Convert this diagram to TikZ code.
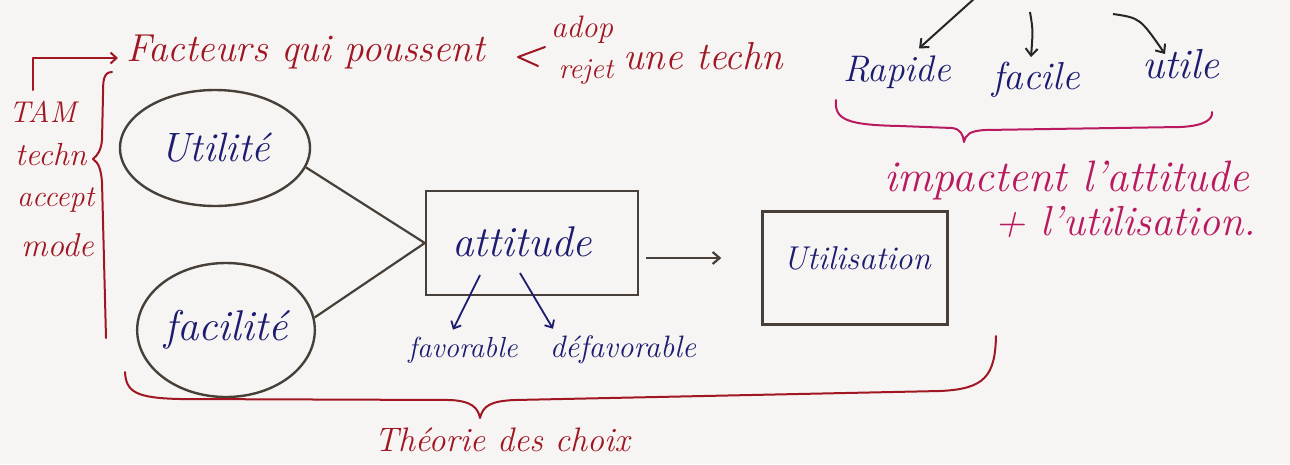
\documentclass[tikz,border=0pt]{standalone}
\usepackage{fontspec}
\usetikzlibrary{shapes.geometric,arrows.meta}
\definecolor{inkred}{RGB}{160,22,35}
\definecolor{inkblue}{RGB}{28,28,112}
\definecolor{inkmag}{RGB}{185,25,95}
\definecolor{inkgray}{RGB}{72,64,56}
\definecolor{paper}{RGB}{246,245,243}
\begin{document}
\begin{tikzpicture}[x=1pt,y=-1pt,
  fs/.style={font=\fontsize{#1}{#1}\selectfont\itshape, inner sep=1pt},
  redtext/.style={text=inkred},
  bluetext/.style={text=inkblue},
  magtext/.style={text=inkmag},
  blob/.style={ellipse, draw=inkgray, line width=2.4pt, bluetext, inner sep=0pt},
  boxnode/.style={rectangle, draw=inkgray, line width=2.4pt},
  link/.style={draw=inkgray, line width=2.2pt},
  grayarrow/.style={draw=inkgray, line width=2.2pt, -{Straight Barb[length=7pt,width=12pt]}},
  bluearrow/.style={draw=inkblue, line width=1.8pt, -{Straight Barb[length=6pt,width=11pt]}},
  darkarrow/.style={draw=black!85, line width=2pt, -{Straight Barb[length=7pt,width=12pt]}},
  redline/.style={draw=inkred, line width=2pt, line cap=round, line join=round},
  magline/.style={draw=inkmag, line width=2pt, line cap=round, line join=round}
]
\fill[paper] (0,0) rectangle (1290,464);
\useasboundingbox (0,0) rectangle (1290,464);

% main nodes
\node[blob, fs=41, minimum width=190pt, minimum height=116pt] (util) at (215,148) {Utilité};
\node[blob, fs=43, minimum width=170pt, minimum height=134pt] (fac) at (226,330) {facilité};
\node[boxnode, minimum width=212pt, minimum height=104pt] (att) at (532,243) {};
\node[bluetext, fs=43] (attl) at (522,242) {attitude};
\node[boxnode, minimum width=185pt, minimum height=113pt] (use) at (855,268) {};
\node[bluetext, fs=33] (usel) at (857,258) {Utilisation};
\node[bluetext, fs=29] (fav) at (463,350) {favorable};
\node[bluetext, fs=31] (defav) at (623,350) {défavorable};

\draw[link] (util.-12) -- (att.west);
\draw[link] (fac.8) -- (att.west);
\draw[grayarrow] ([yshift=-15pt]att.east) ++(7,0) -- ([xshift=-40pt,yshift=10pt]use.west);
\draw[bluearrow] ([xshift=-52pt,yshift=-32pt]att.center) -- ([xshift=-10pt,yshift=6pt]fav.north);
\draw[bluearrow] ([xshift=-12pt,yshift=-30pt]att.center) -- ([xshift=-70pt,yshift=6pt]defav.north);

% left side
\node[redtext, fs=30, anchor=west] (tam) at (8,112) {TAM};
\node[redtext, fs=32, anchor=west] (techn) at (14,155) {techn};
\node[redtext, fs=30, anchor=west] (accept) at (16,200) {accept};
\node[redtext, fs=33, anchor=west] (mode) at (20,245) {mode};
\draw[redline] (112,72) .. controls (103,72) and (103,82) .. (103,95) -- (102,140)
  .. controls (101,150) and (98,155) .. (93,159) .. controls (99,163) and (101,170) .. (102,182) -- (106,338);
\coordinate (elb0) at (33,90);
\draw[redline, -{Straight Barb[length=6pt,width=11pt]}] (elb0) -- (33,58) -- (118,58) coordinate (elb);

% top line
\node[redtext, fs=39, anchor=west] (fact) at (125,52) {Facteurs qui poussent};
\node[redtext, fs=31] (adop) at (582,30) {adop};
\node[redtext, fs=29] (rejet) at (586,72) {rejet};
\draw[redline] (545,47) -- (518,57) -- (538,66);
\node[redtext, fs=39, anchor=west] (techn2) at (622,56) {une techn};

% top right
\coordinate (s1) at (975,-2);
\coordinate (s2) at (1030,12);
\coordinate (s3) at (1113,14);
\node[bluetext, fs=37] (rap) at (897,72) {Rapide};
\node[bluetext, fs=39] (facile) at (1036,80) {facile};
\node[bluetext, fs=42] (utile) at (1181,64) {utile};
\draw[darkarrow] (s1) -- ([xshift=22pt,yshift=6pt]rap.north);
\draw[darkarrow] (s2) .. controls (1033,30) .. ([xshift=-5pt,yshift=4pt]facile.north);
\draw[darkarrow] (s3) .. controls (1140,18) .. ([xshift=-16pt,yshift=-6pt]utile.north);
\draw[magline] (836,100) .. controls (834,120) and (848,125) .. (900,126) -- (952,128)
  .. controls (961,129) and (963,135) .. (964,142) .. controls (966,134) and (970,131) .. (985,130)
  -- (1180,127) .. controls (1205,126) and (1213,119) .. (1212,112);
\node[magtext, fs=44] (imp) at (1067,180) {impactent l'attitude};
\node[magtext, fs=42] (imp2) at (1125,222) {+ l'utilisation.};

% bottom brace
\draw[redline] (125,372) .. controls (126,392) and (136,398) .. (180,399) -- (450,400)
  .. controls (472,401) and (478,408) .. (480,418) .. controls (483,406) and (490,401) .. (515,400)
  -- (940,391) .. controls (985,389) and (995,376) .. (996,336);
\node[redtext, fs=34] (theo) at (502,440) {Théorie des choix};
\end{tikzpicture}
\end{document}
